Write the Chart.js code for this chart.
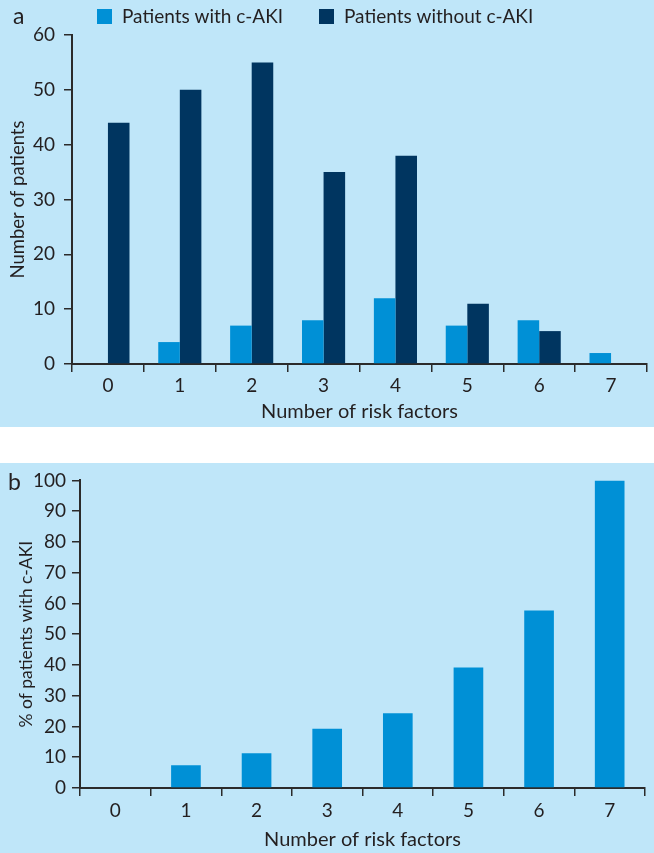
<!DOCTYPE html>
<html>
<head>
<meta charset="utf-8">
<script src="https://cdn.jsdelivr.net/npm/chart.js@4/dist/chart.umd.min.js"></script>
<style>
  html, body { margin: 0; padding: 0; background: #ffffff; }
  #wrap { position: relative; width: 654px; height: 853px; background: #ffffff; overflow: hidden; }
  .panel { position: absolute; left: 0; width: 654px; background: #bfe6f9; }
  #pa { top: 0; height: 427px; }
  #pb { top: 463px; height: 390px; }
  canvas { display: block; }
</style>
</head>
<body>
<div id="wrap">
  <div class="panel" id="pa"><canvas id="ca" width="654" height="427"></canvas></div>
  <div class="panel" id="pb"><canvas id="cb" width="654" height="390"></canvas></div>
</div>
<script>
// ---- data ----
const categories = ['0', '1', '2', '3', '4', '5', '6', '7'];
const withAKI = [0, 4, 7, 8, 12, 7, 8, 2];
const withoutAKI = [44, 50, 55, 35, 38, 11, 6, 0];
const pctWithAKI = [0, 7.4, 11.3, 19.3, 24.3, 39.2, 57.7, 100];
const seriesLabels = ['Patients with c-AKI', 'Patients without c-AKI'];
const panelLetters = ['a', 'b'];
const xTitle = 'Number of risk factors';
const yTitleA = 'Number of patients';
const yTitleB = '% of patients with c-AKI';

const FONT = 'Lato, "Open Sans", sans-serif';
const TXT = '#231f20';
const AX = '#2b2b2b';
const LIGHT = '#0090d6';
const DARK = '#003560';
const TICK_SIZE = 19;
const TITLE_SIZE = 20;

Chart.defaults.font.family = FONT;
Chart.defaults.color = TXT;
Chart.defaults.animation = false;

function letterPlugin(letter, x, y) {
  return {
    id: 'letter' + letter,
    afterDraw(chart) {
      const ctx = chart.ctx;
      ctx.save();
      ctx.fillStyle = TXT;
      ctx.font = '23px ' + FONT;
      ctx.textBaseline = 'alphabetic';
      ctx.textAlign = 'left';
      ctx.fillText(letter, x, y);
      ctx.restore();
    }
  };
}

const legendPlugin = {
  id: 'customLegend',
  afterDraw(chart) {
    const ctx = chart.ctx;
    const items = [{x: 97}, {x: 319}];
    ctx.save();
    chart.data.datasets.forEach((ds, i) => {
      const it = items[i];
      ctx.fillStyle = ds.backgroundColor;
      ctx.fillRect(it.x, 9, 15, 15);
      ctx.fillStyle = TXT;
      ctx.font = '19px ' + FONT;
      ctx.textBaseline = 'alphabetic';
      ctx.textAlign = 'left';
      ctx.fillText(ds.label, it.x + 25, 23);
    });
    ctx.restore();
  }
};

function axisCommon() {
  return {
    grid: { display: true, drawOnChartArea: false, drawTicks: true, tickLength: 8, color: AX, lineWidth: 1.5 },
    border: { display: true, color: AX, width: 2 },
  };
}

// ---- chart a ----
new Chart(document.getElementById('ca'), {
  type: 'bar',
  data: {
    labels: categories,
    datasets: [
      { label: seriesLabels[0], data: withAKI, backgroundColor: LIGHT, categoryPercentage: 0.6, barPercentage: 1.0 },
      { label: seriesLabels[1], data: withoutAKI, backgroundColor: DARK, categoryPercentage: 0.6, barPercentage: 1.0 }
    ]
  },
  options: {
    responsive: false,
    devicePixelRatio: 1,
    layout: { padding: { top: 35, right: 7, left: 0, bottom: 0 } },
    plugins: { legend: { display: false }, tooltip: { enabled: false } },
    scales: {
      x: Object.assign(axisCommon(), {
        ticks: { font: { size: TICK_SIZE }, color: TXT, padding: 2 },
        title: { display: true, text: xTitle, font: { size: TITLE_SIZE }, color: TXT, padding: { top: 0, bottom: 3 } },
        afterFit(s) { s.height = 63; }
      }),
      y: Object.assign(axisCommon(), {
        min: 0, max: 60,
        ticks: { stepSize: 10, font: { size: TICK_SIZE }, color: TXT, padding: 9 },
        title: { display: true, text: yTitleA, font: { size: 18.5 }, color: TXT, padding: { top: 7, bottom: 0 } },
        afterFit(s) { s.width = 72; }
      })
    }
  },
  plugins: [legendPlugin, letterPlugin(panelLetters[0], 13, 24)]
});

// ---- chart b ----
new Chart(document.getElementById('cb'), {
  type: 'bar',
  data: {
    labels: categories,
    datasets: [
      { label: yTitleB, data: pctWithAKI, backgroundColor: LIGHT, categoryPercentage: 1.0, barPercentage: 0.42 }
    ]
  },
  options: {
    responsive: false,
    devicePixelRatio: 1,
    layout: { padding: { top: 14, right: 9, left: 0, bottom: 0 } },
    plugins: { legend: { display: false }, tooltip: { enabled: false } },
    scales: {
      x: Object.assign(axisCommon(), {
        ticks: { font: { size: TICK_SIZE }, color: TXT, padding: 3 },
        title: { display: true, text: xTitle, font: { size: TITLE_SIZE }, color: TXT, padding: { top: 0, bottom: 1 } },
        afterFit(s) { s.height = 65; }
      }),
      y: Object.assign(axisCommon(), {
        min: 0, max: 100,
        ticks: { stepSize: 10, font: { size: TICK_SIZE }, color: TXT, padding: 6 },
        title: { display: true, text: yTitleB, font: { size: 17.5 }, color: TXT, padding: { top: 16, bottom: 0 } },
        afterFit(s) { s.width = 80; }
      })
    }
  },
  plugins: [letterPlugin(panelLetters[1], 8, 27)]
});
</script>
</body>
</html>
